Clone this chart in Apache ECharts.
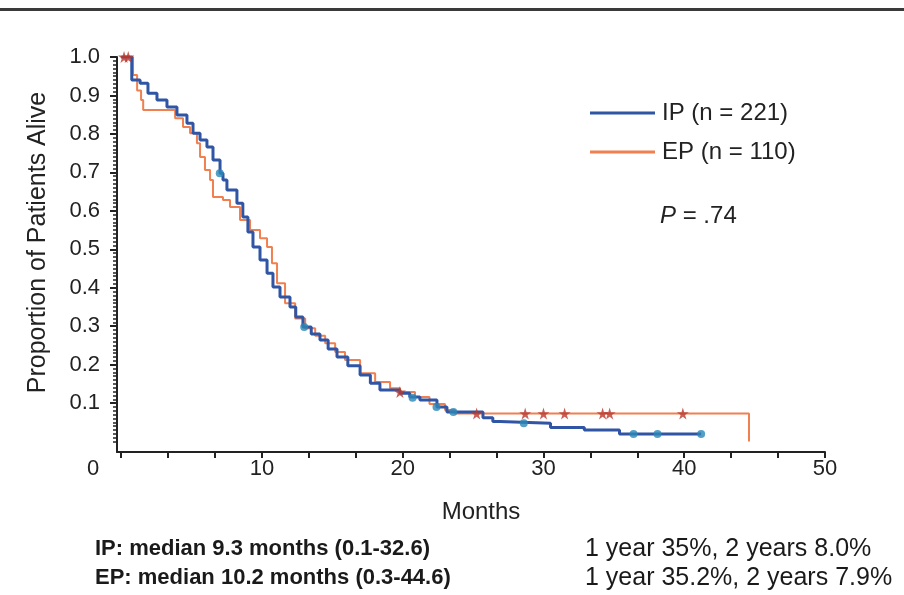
<!DOCTYPE html>
<html>
<head>
<meta charset="utf-8">
<script src="https://cdn.jsdelivr.net/npm/echarts@6/dist/echarts.min.js"></script>
<style>
  html, body { margin: 0; padding: 0; background: #fff; }
  #km-chart { width: 904px; height: 595px; }
</style>
</head>
<body>
<div id="km-chart"></div>
<script>
// tick labels
const xTickLabels = [0, 10, 20, 30, 40, 50];
const yTickLabels = [0.1, 0.2, 0.3, 0.4, 0.5, 0.6, 0.7, 0.8, 0.9, 1.0];

// IP curve (months, proportion alive)
const ipMonths = [0, 0.75, 1.34, 1.9, 2.54, 3.25, 3.96, 4.67, 5.1, 5.6, 6.09, 6.52, 7.02, 7.23, 7.51, 8.22, 8.64, 9.0, 9.36, 9.86, 10.36, 10.78, 11.28, 11.99, 12.4, 12.91, 13.5, 14.12, 14.7, 15.33, 16.1, 16.97, 17.7, 18.38, 19.8, 20.5, 21.22, 22.43, 23.14, 25.7, 26.4, 26.9, 30.5, 32.9, 35.4, 41.2];
const ipSurvival = [1.0, 0.94, 0.932, 0.906, 0.888, 0.87, 0.849, 0.828, 0.802, 0.784, 0.766, 0.732, 0.698, 0.68, 0.654, 0.62, 0.584, 0.545, 0.506, 0.472, 0.438, 0.402, 0.376, 0.35, 0.324, 0.298, 0.28, 0.264, 0.241, 0.22, 0.197, 0.173, 0.152, 0.134, 0.126, 0.116, 0.108, 0.09, 0.077, 0.062, 0.052, 0.048, 0.037, 0.03, 0.02, 0.02];

// EP curve
const epMonths = [0, 0.84, 1.13, 1.41, 1.56, 3.83, 4.39, 4.89, 5.38, 5.6, 5.95, 6.31, 6.52, 7.23, 7.73, 8.44, 9.15, 9.86, 10.36, 10.71, 11.07, 11.64, 12.36, 13.07, 13.78, 14.49, 15.2, 15.9, 16.97, 18.04, 19.1, 19.8, 20.87, 21.9, 23.0, 23.7, 44.6, 44.6];
const epSurvival = [1.0, 0.953, 0.913, 0.888, 0.862, 0.841, 0.818, 0.802, 0.776, 0.74, 0.706, 0.68, 0.636, 0.628, 0.61, 0.576, 0.55, 0.529, 0.506, 0.464, 0.412, 0.36, 0.32, 0.295, 0.275, 0.256, 0.233, 0.212, 0.178, 0.155, 0.139, 0.129, 0.116, 0.098, 0.082, 0.073, 0.073, 0];

// censored patients
const ipCensorMonths = [7.0, 13.0, 20.7, 22.4, 23.6, 28.6, 36.4, 38.1, 41.2];
const ipCensorSurvival = [0.698, 0.298, 0.114, 0.09, 0.077, 0.048, 0.02, 0.02, 0.02];
const epCensorMonths = [0.2, 0.5, 19.8, 25.25, 28.7, 30.0, 31.5, 34.2, 34.7, 39.9];
const epCensorSurvival = [1.0, 1.0, 0.129, 0.073, 0.073, 0.073, 0.073, 0.073, 0.073, 0.073];

const seriesNames = ['IP (n = 221)', 'EP (n = 110)'];

const font = "'Liberation Sans', Arial, sans-serif";
const ipColor = '#2f55a4';
const epColor = '#f08050';

const zip = (xs, ys) => xs.map((x, i) => [x, ys[i]]);

// x ticks every 10/3 months, y minor ticks every 0.01
const xTicks = [];
for (let i = 0; i <= 15; i++) xTicks.push(i * 10 / 3);
const yMinorTicks = [];
for (let i = 0; i <= 100; i++) yMinorTicks.push(i / 100);

const star = 'path://M50,0 L61,35 L98,35 L68,57 L79,91 L50,70 L21,91 L32,57 L2,35 L39,35 Z';

const chart = echarts.init(document.getElementById('km-chart'));

const option = {
    animation: false,
    backgroundColor: '#fff',
    textStyle: { fontFamily: font },
    grid: { left: 117, right: 79, top: 57, bottom: 143 },
    legend: {
        data: seriesNames,
        orient: 'vertical',
        left: 585,
        top: 96,
        icon: 'rect',
        itemWidth: 65,
        itemHeight: 3,
        itemGap: 15,
        textStyle: { fontSize: 24, color: '#222', fontFamily: font, padding: [0, 0, 0, 2] }
    },
    xAxis: {
        type: 'value',
        min: -0.3,
        max: 50,
        name: 'Months',
        nameLocation: 'middle',
        nameGap: 48,
        nameTextStyle: { fontSize: 24, color: '#222', fontFamily: font, padding: [0, 0, 0, 20] },
        splitLine: { show: false },
        axisLine: { show: true, onZero: false, lineStyle: { color: '#222', width: 2 } },
        axisTick: { show: true, customValues: xTicks, length: 6, lineStyle: { color: '#222', width: 2 } },
        axisLabel: {
            customValues: xTickLabels,
            fontSize: 22,
            color: '#222',
            margin: 6,
            formatter: v => (v === 0 ? '{z|0}' : String(v)),
            rich: { z: { fontSize: 22, color: '#222', fontFamily: font, padding: [0, 56, 0, 0] } }
        }
    },
    yAxis: [
        {
            type: 'value',
            min: -0.027,
            max: 1.0,
            splitLine: { show: false },
            axisLine: { show: true, onZero: false, lineStyle: { color: '#222', width: 2 } },
            axisTick: { show: true, customValues: yMinorTicks, length: 4, lineStyle: { color: '#222', width: 1.5 } },
            axisLabel: { show: false }
        },
        {
            type: 'value',
            position: 'left',
            min: -0.027,
            max: 1.0,
            name: 'Proportion of Patients Alive',
            nameLocation: 'middle',
            nameGap: 66,
            nameTextStyle: { fontSize: 25, color: '#222', fontFamily: font, padding: [0, 0, 0, 24] },
            splitLine: { show: false },
            axisLine: { show: false, onZero: false },
            axisTick: { show: true, customValues: yTickLabels, length: 7, lineStyle: { color: '#222', width: 2 } },
            axisLabel: {
                customValues: yTickLabels,
                fontSize: 22,
                color: '#222',
                margin: 17,
                formatter: v => v.toFixed(1)
            }
        }
    ],
    series: [
        {
            name: seriesNames[0],
            type: 'line',
            step: 'end',
            yAxisIndex: 0,
            showSymbol: false,
            color: ipColor,
            lineStyle: { color: ipColor, width: 3 },
            data: zip(ipMonths, ipSurvival),
            z: 3
        },
        {
            name: seriesNames[1],
            type: 'line',
            step: 'end',
            yAxisIndex: 0,
            showSymbol: false,
            color: epColor,
            lineStyle: { color: epColor, width: 2 },
            data: zip(epMonths, epSurvival),
            z: 2
        },
        {
            name: 'IP censored',
            type: 'scatter',
            yAxisIndex: 0,
            symbol: 'circle',
            symbolSize: 8,
            itemStyle: { color: '#2a87b6' },
            data: zip(ipCensorMonths, ipCensorSurvival),
            z: 4
        },
        {
            name: 'EP censored',
            type: 'scatter',
            yAxisIndex: 0,
            symbol: star,
            symbolSize: 12,
            itemStyle: { color: '#b83a30' },
            data: zip(epCensorMonths, epCensorSurvival),
            z: 5
        }
    ],
    graphic: [
        {
            type: 'rect',
            shape: { x: 0, y: 8, width: 904, height: 3 },
            style: { fill: '#3a3a3a' }
        },
        {
            type: 'text',
            left: 660,
            top: 204,
            style: {
                text: '{i|P} = .74',
                font: '24px ' + font,
                fill: '#222',
                rich: { i: { fontStyle: 'italic', fontSize: 24, fontFamily: font, fill: '#222' } }
            }
        },
        {
            type: 'text',
            left: 95,
            top: 538,
            style: { text: 'IP: median 9.3 months (0.1-32.6)', font: 'bold 22px ' + font, fill: '#1a1a1a' }
        },
        {
            type: 'text',
            left: 95,
            top: 567,
            style: { text: 'EP: median 10.2 months (0.3-44.6)', font: 'bold 22px ' + font, fill: '#1a1a1a' }
        },
        {
            type: 'text',
            left: 585,
            top: 537,
            style: { text: '1 year 35%, 2 years 8.0%', font: '25px ' + font, fill: '#1a1a1a' }
        },
        {
            type: 'text',
            left: 585,
            top: 566,
            style: { text: '1 year 35.2%, 2 years 7.9%', font: '25px ' + font, fill: '#1a1a1a' }
        }
    ]
};

chart.setOption(option);
</script>
</body>
</html>
